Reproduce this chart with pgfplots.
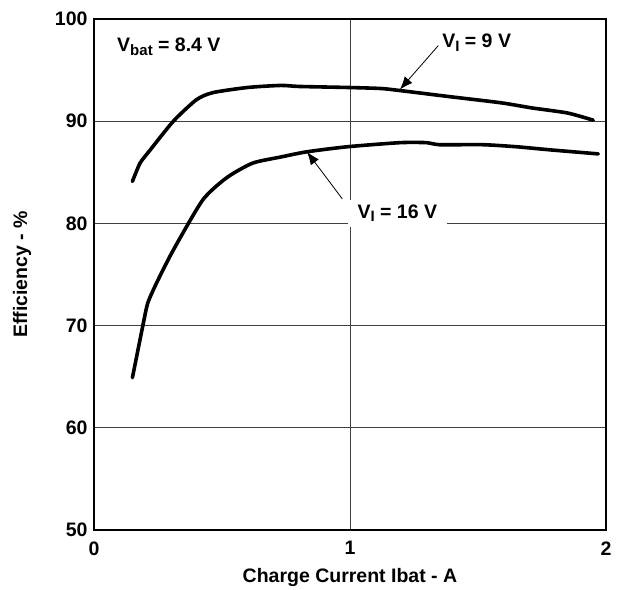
\documentclass[border=0pt]{standalone}
\usepackage{pgfplots}
\pgfplotsset{compat=1.18}
\usepackage{fontspec}
\setmainfont{Liberation Sans}
\usetikzlibrary{arrows.meta}

\newcommand{\lblfont}{\fontsize{19.5}{23}\selectfont\bfseries}
\newcommand{\sub}[1]{\raisebox{-0.35ex}{\fontsize{15}{17}\selectfont #1}}

\begin{document}
\begin{tikzpicture}
\begin{axis}[
    scale only axis,
    width=512pt, height=511pt,
    xmin=0, xmax=2, ymin=50, ymax=100,
    xtick={0,1,2}, ytick={50,60,70,80,90,100},
    major tick length=0pt,
    grid=major,
    grid style={black!75, line width=0.8pt},
    axis line style={line width=2.8pt},
    tick label style={font=\lblfont},
    /pgf/number format/assume math mode=true,
    xticklabel style={yshift=-8pt},
    yticklabel style={xshift=-3pt},
    xlabel={Charge Current Ibat - A},
    ylabel={Efficiency - \%},
    every axis x label/.style={at={(rel axis cs:0.5,0)}, yshift=-47pt, anchor=center, font=\lblfont},
    every axis y label/.style={at={(rel axis cs:0,0.5)}, xshift=-72pt, anchor=center, rotate=90, font=\lblfont},
    clip=false,
]
% V_I = 9 V
\addplot[black, line width=3.6pt, line cap=round, smooth, tension=0.4] coordinates {
    (0.15,84.1)(0.18,85.9)(0.22,87.2)(0.31,90.0)(0.40,92.1)(0.465,92.8)
    (0.60,93.3)(0.73,93.5)(0.80,93.4)(0.99,93.3)(1.12,93.2)(1.195,93.0)
    (1.39,92.4)(1.59,91.8)(1.71,91.3)(1.85,90.8)(1.95,90.1)
};
% V_I = 16 V
\addplot[black, line width=3.6pt, line cap=round, smooth, tension=0.4] coordinates {
    (0.15,64.9)(0.19,69.9)(0.21,72.2)(0.245,74.2)(0.31,77.4)(0.425,82.3)
    (0.52,84.5)(0.62,85.9)(0.73,86.5)(0.83,87.0)(0.99,87.5)(1.195,87.9)
    (1.30,87.9)(1.35,87.7)(1.52,87.7)(1.65,87.5)(1.78,87.2)(1.97,86.8)
};
\node[anchor=west, inner xsep=0pt, font=\lblfont]
    at (axis cs:0.09,97.3) {V\sub{bat} = 8.4 V};
\node[anchor=west, inner xsep=0pt, font=\lblfont]
    at (axis cs:1.36,97.7) {V\sub{I} = 9 V};
\draw[-{Latex[length=13pt,width=10pt]}, line width=0.8pt]
    (axis cs:1.345,97.4) -- (axis cs:1.195,93.1);
\node[fill=white, inner xsep=10pt, inner ysep=5pt, font=\lblfont]
    at (axis cs:1.185,81.0) {V\sub{I} = 16 V};
\draw[-{Latex[length=13pt,width=10pt]}, line width=0.8pt]
    (axis cs:0.97,82.4) -- (axis cs:0.832,87.0);
\end{axis}
\path (current axis.south west) ++(-94pt,-59pt) rectangle ++(620pt,589pt);
\end{tikzpicture}
\end{document}
